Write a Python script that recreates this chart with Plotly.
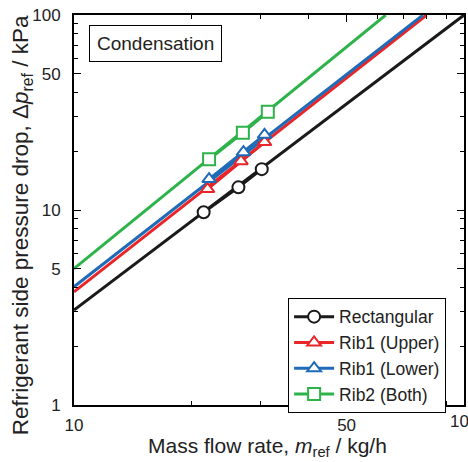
import plotly.graph_objects as go

# Fitted lines (end points)
black_line_x = [10, 100]
black_line_y = [3.07, 100]
red_line_x = [10, 80.2]
red_line_y = [3.80, 100]
blue_line_x = [10, 78.5]
blue_line_y = [4.04, 100]
green_line_x = [10, 63.0]
green_line_y = [5.0, 100]

# Measured points
black_x = [21.5, 26.4, 30.3]
black_y = [9.73, 13.07, 16.2]
red_x = [22.0, 26.8, 30.8]
red_y = [12.8, 17.8, 22.3]
blue_x = [22.2, 27.2, 30.8]
blue_y = [14.4, 19.8, 24.3]
green_x = [22.2, 27.1, 31.4]
green_y = [18.2, 24.9, 31.9]

names = ["Rectangular", "Rib1 (Upper)", "Rib1 (Lower)", "Rib2 (Both)"]
colors = ["#1a1a1a", "#e8262a", "#1f6bb8", "#2db34a"]
symbols = ["circle", "triangle-up", "triangle-up", "square"]

lines = [(black_line_x, black_line_y), (red_line_x, red_line_y),
         (blue_line_x, blue_line_y), (green_line_x, green_line_y)]
points = [(black_x, black_y), (red_x, red_y), (blue_x, blue_y), (green_x, green_y)]

x_major = [10, 50]
x_edge_label = 100
x_minor = [20, 30, 40, 60, 70, 80, 90]
y_major = [1, 5, 10, 50, 100]
y_minor = [2, 3, 4, 6, 7, 8, 9, 20, 30, 40, 60, 70, 80, 90]

FONT = "Liberation Sans, Arial, sans-serif"
TXT = "#222"

fig = go.Figure()
for (lx, ly), c in zip(lines, colors):
    fig.add_trace(go.Scatter(x=lx, y=ly, mode="lines", line=dict(color=c, width=3),
                             showlegend=False, hoverinfo="skip"))
for (px, py), c, s, n in zip(points, colors, symbols, names):
    fig.add_trace(go.Scatter(x=px, y=py, mode="lines+markers", name=n,
                             line=dict(color=c, width=3),
                             marker=dict(symbol=s, size=12,
                                         color="white", line=dict(color=c, width=2))))

axis_common = dict(type="log", showgrid=False, zeroline=False, showline=True,
                   linecolor="black", linewidth=2, mirror="allticks",
                   ticks="inside", ticklen=7, tickwidth=1, tickcolor="black",
                   tickfont=dict(family=FONT, size=17, color=TXT),
                   minor=dict(ticks="inside", ticklen=4, tickwidth=1, tickcolor="black",
                              tickmode="array", showgrid=False),
                   automargin=False, tickmode="array")

fig.update_xaxes(**axis_common, range=[1, 2], tickvals=x_major + [x_edge_label],
                 ticktext=[str(v) for v in x_major] + [""],
                 ticklabelstandoff=4)
fig.update_xaxes(minor_tickvals=x_minor)
fig.update_yaxes(**axis_common, range=[0, 2], tickvals=y_major,
                 ticktext=[str(v) for v in y_major],
                 ticklabelstandoff=8)
fig.update_yaxes(minor_tickvals=y_minor)

# "100" label at right end of x axis (partly cut off as in the reference)
fig.add_annotation(x=2, y=-0.012, xref="x", yref="paper", xanchor="center", yanchor="top",
                   text=str(x_edge_label), showarrow=False,
                   font=dict(family=FONT, size=17, color=TXT))

# Axis titles
fig.add_annotation(x=0.497, y=-0.108, xref="paper", yref="paper",
                   xanchor="center", yanchor="middle",
                   text="Mass flow rate, <i>m</i><sub>ref</sub> / kg/h", showarrow=False,
                   font=dict(family=FONT, size=21, color=TXT))
fig.add_annotation(x=-0.134, y=0.46, xref="paper", yref="paper",
                   xanchor="center", yanchor="middle", textangle=-90,
                   text="Refrigerant side pressure drop, Δ<i>p</i><sub>ref</sub> / kPa",
                   showarrow=False, font=dict(family=FONT, size=22.5, color=TXT))

fig.add_annotation(x=0.038, y=0.975, xref="paper", yref="paper", xanchor="left", yanchor="top",
                   text="Condensation", showarrow=False,
                   font=dict(family=FONT, size=19, color=TXT),
                   bordercolor="black", borderwidth=1, borderpad=7, bgcolor="white")

fig.update_layout(
    width=468, height=462,
    margin=dict(l=74, r=4, t=15, b=57),
    paper_bgcolor="white", plot_bgcolor="white",
    showlegend=True,
    legend=dict(x=0.549, y=0.275, xanchor="left", yanchor="top",
                bordercolor="black", borderwidth=1, bgcolor="white",
                font=dict(family=FONT, size=17.5, color=TXT),
                tracegroupgap=0, itemwidth=40),
)

fig.write_html("out.html")
